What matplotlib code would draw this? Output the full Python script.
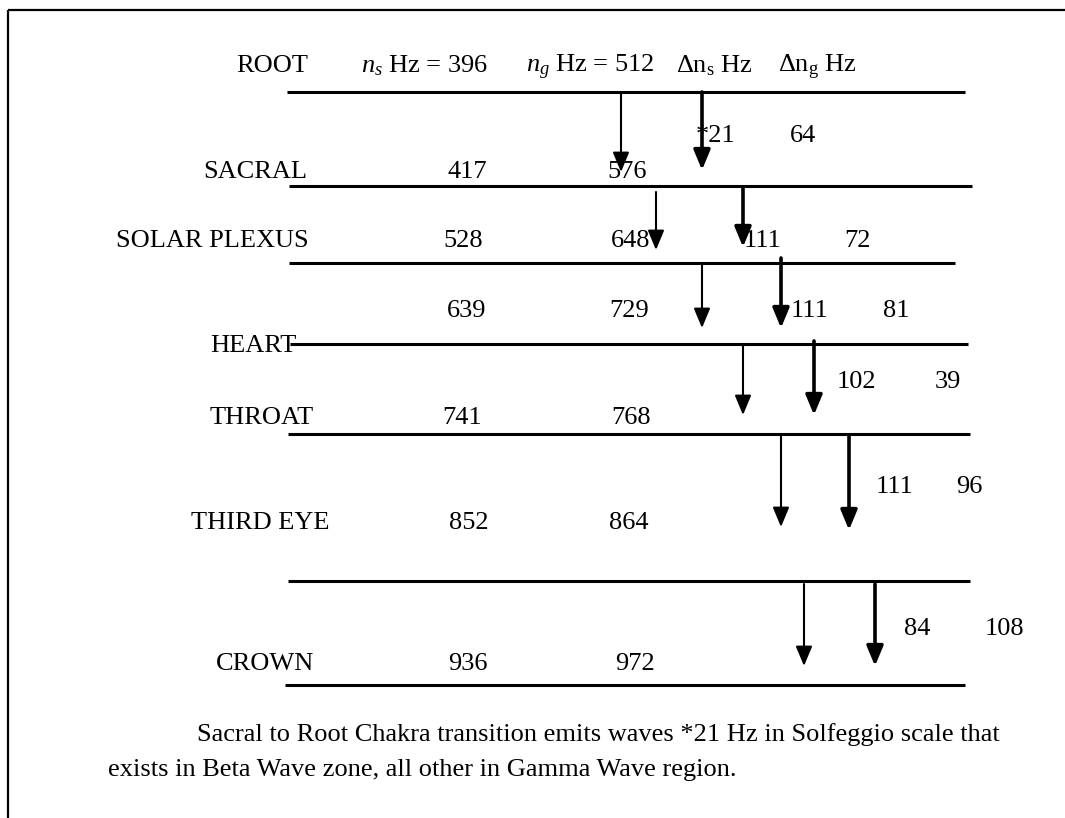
import matplotlib
matplotlib.use('Agg')
import matplotlib.pyplot as plt

plt.rcParams['font.family'] = ['Liberation Serif', 'DejaVu Serif']
plt.rcParams['mathtext.fontset'] = 'custom'
plt.rcParams['mathtext.rm'] = 'Liberation Serif'
plt.rcParams['mathtext.it'] = 'Liberation Serif:italic'

# chakra levels and frequencies
chakras = ['SACRAL', 'SOLAR PLEXUS', 'HEART', 'THROAT', 'THIRD EYE', 'CROWN']
ns_hz = [417, 528, 639, 741, 852, 936]
ng_hz = [576, 648, 729, 768, 864, 972]
dns_lbl = ['*21', '111', '111', '102', '111', '84']
dng_lbl = ['64', '72', '81', '39', '96', '108']
header = ['ROOT', r'$n_s$ Hz = 396', r'$n_g$ Hz = 512',
          r'Δn$_\mathregular{s}$ Hz', r'Δn$_\mathregular{g}$ Hz']
caption = ['Sacral to Root Chakra transition emits waves *21 Hz in Solfeggio scale that',
           'exists in Beta Wave zone, all other in Gamma Wave region.']

# layout (pixel coords, y down)
header_x = [272, 425, 590, 714, 817]
line_y = [92, 186, 263, 344, 434, 581, 685]
line_x = [(287, 965), (289, 972), (289, 955), (290, 968), (288, 970), (288, 970), (285, 965)]
name_x = [255, 212, 253, 262, 260, 265]
name_y = [178, 247, 352, 424, 529, 670]
val_y = [178, 247, 317, 424, 529, 670]
ns_x = [467, 463, 467, 462, 469, 468]
ng_x = [627, 631, 629, 631, 629, 635]
dlbl_y = [142, 247, 317, 388, 493, 635]
dns_x = [716, 763, 810, 856, 895, 917]
dng_x = [803, 857, 896, 948, 969, 1004]
thin_arr = [(621, 92, 172), (656, 192, 250), (702, 264, 328), (743, 345, 415), (781, 436, 527), (804, 584, 666)]
thick_arr = [(702, 92, 170), (743, 188, 247), (781, 258, 328), (814, 341, 415), (849, 436, 530), (875, 584, 666)]

fig = plt.figure(figsize=(10.65, 8.18), dpi=100)
ax = fig.add_axes([0, 0, 1, 1])
ax.set_xlim(0, 1065)
ax.set_ylim(818, 0)
ax.axis('off')

# frame
ax.plot([8, 1065], [10, 10], color='black', lw=1.6, solid_capstyle='butt')
ax.plot([8, 8], [10, 818], color='black', lw=1.6, solid_capstyle='butt')

fs = 19
for x, h in zip(header_x, header):
    ax.text(x, 72, h, ha='center', va='baseline', fontsize=fs)

for y, (x0, x1) in zip(line_y, line_x):
    ax.plot([x0, x1], [y, y], color='black', lw=2.2, solid_capstyle='butt')

for i, name in enumerate(chakras):
    ax.text(name_x[i], name_y[i], name, ha='center', va='baseline', fontsize=fs)
    ax.text(ns_x[i], val_y[i], str(ns_hz[i]), ha='center', va='baseline', fontsize=fs)
    ax.text(ng_x[i], val_y[i], str(ng_hz[i]), ha='center', va='baseline', fontsize=fs)
    ax.text(dns_x[i], dlbl_y[i], dns_lbl[i], ha='center', va='baseline', fontsize=fs)
    ax.text(dng_x[i], dlbl_y[i], dng_lbl[i], ha='center', va='baseline', fontsize=fs)

for arrs, lw in [(thin_arr, 1.5), (thick_arr, 2.6)]:
    for x, y0, y1 in arrs:
        ax.annotate('', xy=(x, y1), xytext=(x, y0),
                    arrowprops=dict(arrowstyle='-|>,head_length=0.6,head_width=0.25',
                                    mutation_scale=20, lw=lw, color='black',
                                    shrinkA=0, shrinkB=0))

ax.text(197, 741, caption[0], ha='left', va='baseline', fontsize=fs)
ax.text(108, 776, caption[1], ha='left', va='baseline', fontsize=fs)

fig.savefig('out.png', dpi=100)
